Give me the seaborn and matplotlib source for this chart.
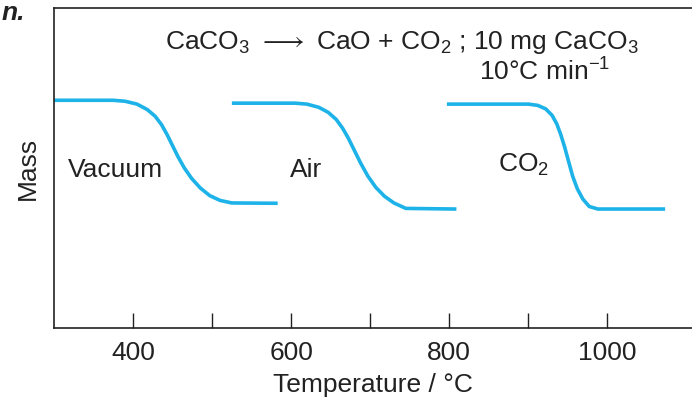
import matplotlib
matplotlib.use("Agg")
import matplotlib.pyplot as plt
import seaborn as sns
import pandas as pd

sns.set_theme(style="white")
plt.rcParams['font.family'] = ['Liberation Sans', 'DejaVu Sans']
plt.rcParams['mathtext.fontset'] = 'custom'
plt.rcParams['mathtext.rm'] = 'Liberation Sans'

vac_x = [300, 375, 390, 405, 418, 428, 436, 443, 450, 457, 465, 474, 485, 497, 510, 525, 583]
vac_y = [71.2, 71.2, 70.9, 70.0, 68.3, 66.2, 63.6, 60.5, 57, 53.5, 50, 46.8, 43.8, 41.4, 39.9, 39.1, 39]
air_x = [525, 605, 620, 635, 647, 657, 665, 672, 680, 688, 697, 707, 718, 730, 745, 809]
air_y = [70.3, 70.3, 70.0, 69.0, 67.4, 65.2, 62.5, 59.5, 55.5, 51.5, 47.5, 44, 41.2, 39.1, 37.4, 37.2]
co2_x = [797, 900, 912, 922, 930, 936, 941, 946, 951, 956, 962, 969, 977, 988, 1073]
co2_y = [70, 70, 69.6, 68.5, 66.5, 63.8, 60.5, 56.5, 52, 47.5, 43.5, 40.3, 38.0, 37.2, 37.2]
xticks = [400, 600, 800, 1000]
minor = [500, 700, 900]

fig = plt.figure(figsize=(6.92, 4.08), dpi=100)
ax = fig.add_axes([0.078, 0.196, 0.922, 0.784])
col = '#1DB3E8'
for nm, xs, ys in [('Vacuum', vac_x, vac_y), ('Air', air_x, air_y), ('CO2', co2_x, co2_y)]:
    df = pd.DataFrame({'x': xs, 'y': ys})
    sns.lineplot(data=df, x='x', y='y', ax=ax, color=col, lw=2.6, sort=False)
for l in ax.lines:
    l.set_solid_joinstyle('round'); l.set_solid_capstyle('butt')

fs = 19
ax.set_xlim(300, 1107)
ax.set_ylim(0, 100)
ax.set_xticks(xticks)
ax.set_xticks(minor, minor=True)
ax.set_yticks([])
ax.tick_params(axis='x', which='both', direction='in', length=11, width=1, colors='#222',
               labelsize=fs, pad=9, bottom=True)
for s in ['left', 'bottom', 'top']:
    ax.spines[s].set_color('#222'); ax.spines[s].set_linewidth(1.2)
ax.spines['right'].set_visible(False)
ax.set_xlabel('Temperature / °C', fontsize=fs, color='#222', labelpad=6)
ax.set_ylabel('Mass', fontsize=fs, color='#222', labelpad=10)

ax.text(740, 89.4, r'CaCO$_3$ $\longrightarrow$ CaO + CO$_2$ ; 10 mg CaCO$_3$', fontsize=fs, ha='center', va='center', color='#222')
ax.text(921, 80.5, r'10°C min$^{-1}$', fontsize=fs, ha='center', va='center', color='#222')
ax.text(318, 49.4, 'Vacuum', fontsize=fs, ha='left', va='center', color='#222')
ax.text(599, 49.4, 'Air', fontsize=fs, ha='left', va='center', color='#222')
ax.text(862, 51, r'CO$_2$', fontsize=fs, ha='left', va='center', color='#222')
fig.text(0.002, 0.998, 'n.', fontsize=fs, fontweight='bold', fontstyle='italic', va='top', color='#222')
fig.savefig('out.png', dpi=100)
